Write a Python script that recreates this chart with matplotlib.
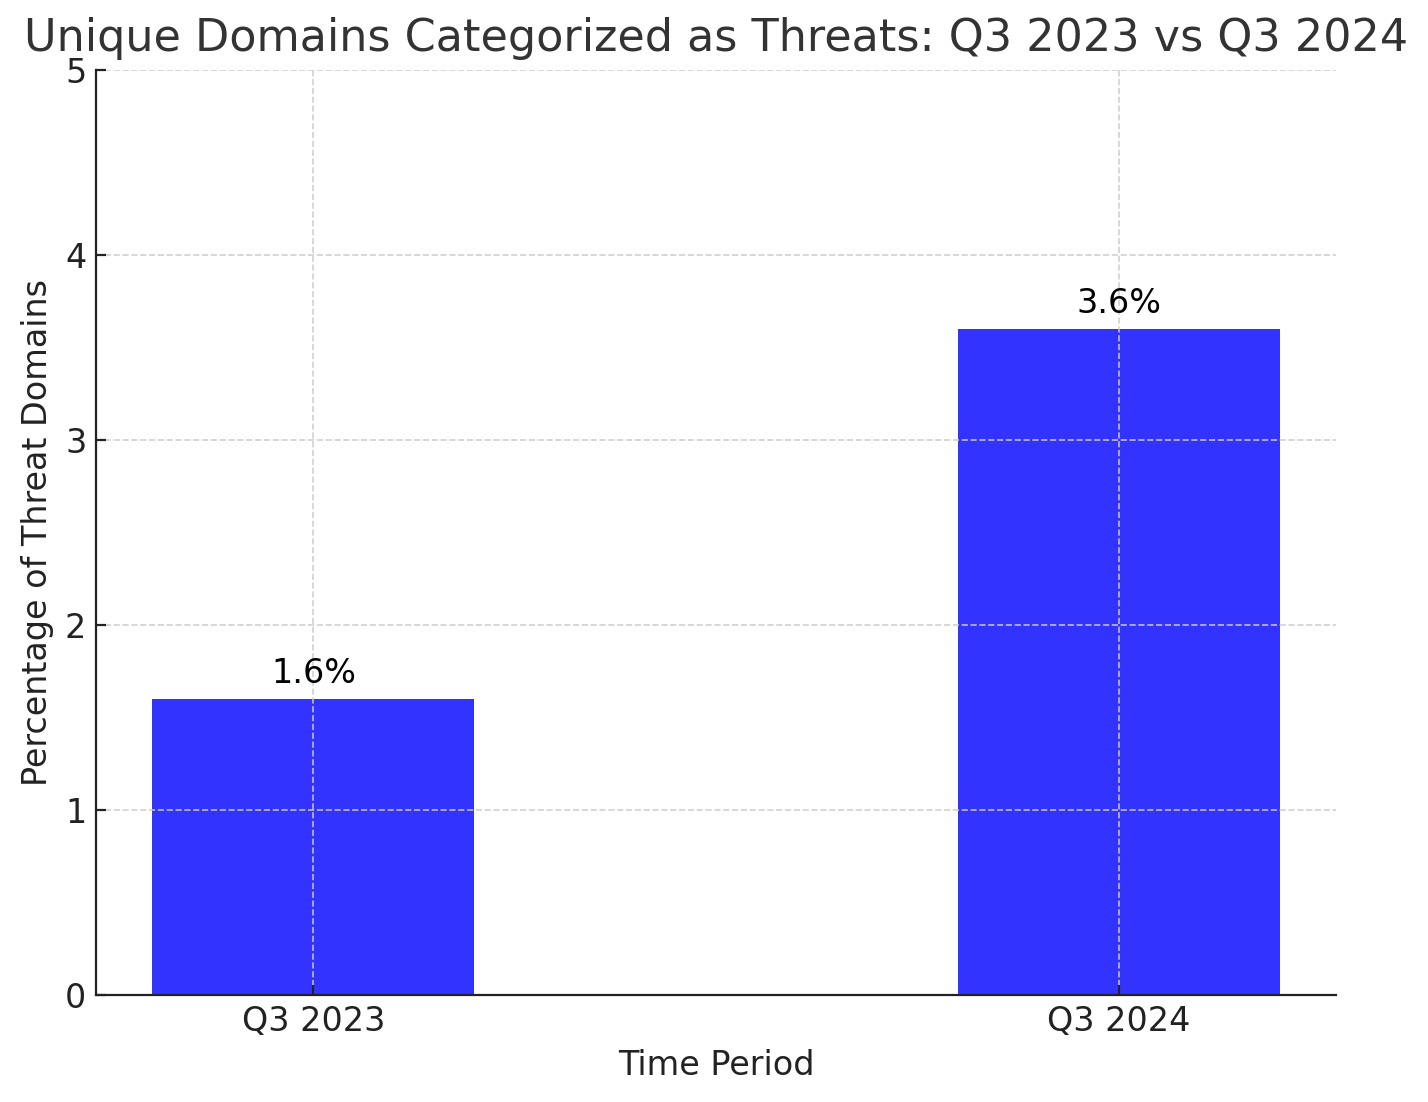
import matplotlib
matplotlib.use("Agg")
import matplotlib.pyplot as plt

categories = ["Q3 2023", "Q3 2024"]
values = [1.6, 3.6]
labels = ["1.6%", "3.6%"]

fig = plt.figure(figsize=(7.14, 5.51), dpi=200)
ax = fig.add_axes([0.0672, 0.0971, 0.8684, 0.8394])

bars = ax.bar(categories, values, width=0.4, color="blue", alpha=0.8)
for b, lab in zip(bars, labels):
    ax.text(b.get_x() + b.get_width() / 2, b.get_height() + 0.05, lab,
            ha="center", va="bottom", fontsize=12, color="black")

ax.set_ylim(0, 5)
ax.set_yticks([0, 1, 2, 3, 4, 5])
ax.grid(True, linestyle="--", color="#cccccc", linewidth=0.6, alpha=0.9)
ax.spines["top"].set_visible(False)
ax.spines["right"].set_visible(False)
for s in ("left", "bottom"):
    ax.spines[s].set_color("#222222")
ax.tick_params(labelsize=12, colors="#222222", direction="in")
ax.set_xlabel("Time Period", fontsize=12, color="#222222")
ax.set_ylabel("Percentage of Threat Domains", fontsize=12, color="#222222")
ax.set_title("Unique Domains Categorized as Threats: Q3 2023 vs Q3 2024",
             fontsize=16, color="#333333", pad=7)

fig.savefig("out.png", dpi=200)
